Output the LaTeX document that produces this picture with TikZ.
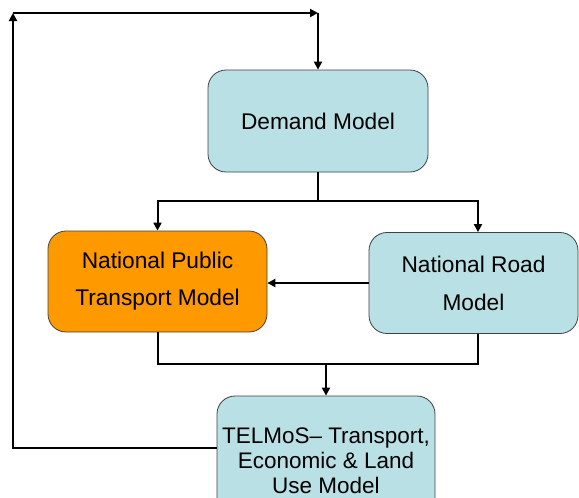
\documentclass[tikz,border=0pt]{standalone}
\usepackage{fontspec}
\setmainfont{Liberation Sans}
\usetikzlibrary{arrows.meta}
\definecolor{boxblue}{RGB}{185,224,228}
\definecolor{boxorange}{RGB}{255,153,0}
\begin{document}
\begin{tikzpicture}[x=1pt,y=-1pt,
  model/.style={draw=black!75, line width=0.8pt, rounded corners=18pt, fill=boxblue,
    minimum width=#1, inner sep=0pt, align=center},
  model/.default=220pt,
  arr/.style={line width=2pt, -{Triangle[length=8pt,width=8pt]}},
  ln/.style={line width=2pt}]
\useasboundingbox (0,0) rectangle (579,498);
\clip (0,0) rectangle (579,498);
\node[model=220pt, minimum height=102pt, font=\fontsize{22.7}{37}\selectfont] (dem) at (318,121) {Demand Model};
\node[model=219pt, minimum height=101pt, fill=boxorange, font=\fontsize{22.7}{37}\selectfont] (npt) at (157.5,281.5) {National Public\\Transport Model};
\node[model=209pt, minimum height=101pt, font=\fontsize{22.7}{38}\selectfont] (nrm) at (473.5,283) {National Road\\Model};
\node[model=218pt, minimum height=130pt, font=\fontsize{22.5}{25}\selectfont] (tel) at (326,461) {TELMoS– Transport,\\Economic \& Land\\Use Model};
% top loop
\coordinate (c1) at (13,13);
\coordinate (c2) at (318,13);
\draw[arr] ([yshift=13pt]tel.west) -| (c1);
\draw[arr] (c1) -- (c2);
\draw[arr] (c2) -- (dem.north);
% demand split
\coordinate (split) at (318,201);
\draw[ln] (dem.south) -- (split);
\draw[arr] (split) -| (npt.north);
\draw[arr] (split) -| (nrm.north -| 478,0);
% road to public transport
\draw[arr] (nrm.west |- 0,283) -- (npt.east |- 0,283);
% merge
\coordinate (merge) at (326,364);
\draw[ln] (npt.south) |- (merge);
\draw[ln] (nrm.south -| 478,0) |- (merge);
\draw[arr] (merge) -- (tel.north);
\end{tikzpicture}
\end{document}
